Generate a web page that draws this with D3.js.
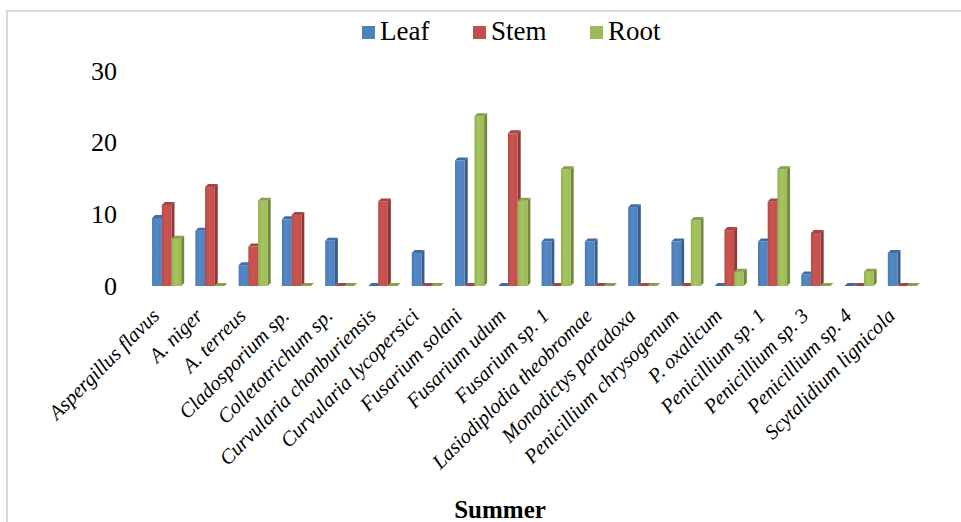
<!DOCTYPE html>
<html lang="en">
<meta charset="utf-8">
<head>
    <script src='https://d3js.org/d3.v7.min.js'></script>
    <style>
        body { margin: 0; background: #fff; }
    </style>
</head>
<body>
<div id="chart"></div>

<script>
// fungal isolates (x axis)
const categories = [
    "Aspergillus flavus", "A. niger", "A. terreus", "Cladosporium sp.",
    "Colletotrichum sp.", "Curvularia chonburiensis", "Curvularia lycopersici",
    "Fusarium solani", "Fusarium udum", "Fusarium sp. 1", "Lasiodiplodia theobromae",
    "Monodictys paradoxa", "Penicillium chrysogenum", "P. oxalicum",
    "Penicillium sp. 1", "Penicillium sp. 3", "Penicillium sp. 4", "Scytalidium lignicola"
];
const seriesNames = ["Leaf", "Stem", "Root"];
const leaf = [9.5, 7.7, 2.9, 9.3, 6.3, 0, 4.6, 17.5, 0, 6.2, 6.2, 11.0, 6.2, 0, 6.2, 1.6, 0, 4.6];
const stem = [11.3, 13.8, 5.5, 9.9, 0, 11.8, 0, 0, 21.3, 0, 0, 0, 0, 7.8, 11.8, 7.4, 0, 0];
const root = [6.6, 0, 11.9, 0, 0, 0, 0, 23.7, 11.9, 16.3, 0, 0, 9.2, 2.0, 16.3, 0, 2.0, 0];
const yTicks = [0, 10, 20, 30];

const colors = {Leaf: "#4F81BD", Stem: "#C0504D", Root: "#9BBB59"};
const sides  = {Leaf: "#385D8A", Stem: "#8C3836", Root: "#71893F"};
const tops   = {Leaf: "#3F6DA3", Stem: "#A54441", Root: "#86A14B"};

const W = 961, H = 522;
const baseY = 286, topY = 71;
const dx = 3, dy = 3; // 3d depth

const svg = d3.select("#chart").append("svg")
    .attr("width", W)
    .attr("height", H)
    .style("font-family", "'Liberation Serif', 'Times New Roman', serif");

// light frame
svg.append("path")
    .attr("d", "M7," + H + "V11H" + W)
    .attr("fill", "none")
    .attr("stroke", "#d9d9d9")
    .attr("stroke-width", 2);

// gradients for the front faces
const defs = svg.append("defs");
seriesNames.forEach(function(s) {
    const g = defs.append("linearGradient").attr("id", "g" + s)
        .attr("x1", "0").attr("x2", "1").attr("y1", "0").attr("y2", "0");
    g.append("stop").attr("offset", "0%").attr("stop-color", d3.color(colors[s]).darker(0.15));
    g.append("stop").attr("offset", "40%").attr("stop-color", d3.color(colors[s]).brighter(0.15));
    g.append("stop").attr("offset", "100%").attr("stop-color", colors[s]);
});

const x0 = d3.scaleBand()
    .domain(categories)
    .range([145, 924]);
const x1 = d3.scaleBand()
    .domain(seriesNames)
    .range([0, x0.bandwidth()])
    .paddingOuter(0.73);
const y = d3.scaleLinear()
    .domain([0, 30])
    .range([baseY, topY]);

// y axis (labels only)
const yAxis = svg.append("g")
    .attr("transform", "translate(123,0)")
    .call(d3.axisLeft(y).tickValues(yTicks).tickSize(0).tickPadding(6));
yAxis.select(".domain").remove();
yAxis.selectAll("text")
    .style("font-family", "'Liberation Serif', serif")
    .style("font-size", "26px")
    .attr("fill", "#000");

// x axis labels
const xAxis = svg.append("g")
    .attr("transform", "translate(0," + baseY + ")")
    .call(d3.axisBottom(x0).tickSize(0));
xAxis.select(".domain").remove();
xAxis.selectAll("text")
    .style("font-family", "'Liberation Serif', serif")
    .style("font-size", "20.5px")
    .style("font-style", "italic")
    .attr("fill", "#000")
    .attr("text-anchor", "end")
    .attr("dy", null)
    .attr("y", 0)
    .attr("transform", "translate(-6,31) rotate(-45)");

// bars
const rows = categories.map(function(c, i) {
    return {cat: c, values: [
        {key: "Leaf", v: leaf[i]},
        {key: "Stem", v: stem[i]},
        {key: "Root", v: root[i]}
    ]};
});

const groups = svg.append("g").selectAll("g")
    .data(rows)
    .join("g")
    .attr("transform", function(d) { return "translate(" + x0(d.cat) + ",0)"; });

const bars = groups.selectAll("g")
    .data(function(d) { return d.values; })
    .join("g");

const bw = x1.bandwidth();
// side face
bars.append("path")
    .attr("fill", function(d) { return sides[d.key]; })
    .attr("d", function(d) {
        const xl = x1(d.key) + bw, yt = y(d.v);
        return "M" + xl + "," + yt + "L" + (xl + dx) + "," + (yt - dy) +
            "L" + (xl + dx) + "," + (baseY - dy) + "L" + xl + "," + baseY + "Z";
    });
// front face
bars.append("rect")
    .attr("x", function(d) { return x1(d.key); })
    .attr("y", function(d) { return y(d.v); })
    .attr("width", bw)
    .attr("height", function(d) { return baseY - y(d.v); })
    .attr("fill", function(d) { return "url(#g" + d.key + ")"; });
// top face
bars.append("path")
    .attr("fill", function(d) { return tops[d.key]; })
    .attr("d", function(d) {
        const xl = x1(d.key), yt = y(d.v);
        return "M" + xl + "," + yt + "L" + (xl + dx) + "," + (yt - dy) +
            "L" + (xl + bw + dx) + "," + (yt - dy) + "L" + (xl + bw) + "," + yt + "Z";
    });

// legend
const legendX = [362, 473, 590];
const legend = svg.append("g").selectAll("g")
    .data(seriesNames)
    .join("g")
    .attr("transform", function(d, i) { return "translate(" + legendX[i] + ",26)"; });
legend.append("rect")
    .attr("width", 13)
    .attr("height", 13)
    .attr("fill", function(d) { return colors[d]; });
legend.append("text")
    .attr("x", 18)
    .attr("y", 14)
    .style("font-size", "27px")
    .text(function(d) { return d; });

// title at the bottom
svg.append("text")
    .attr("x", 500)
    .attr("y", 518)
    .attr("text-anchor", "middle")
    .style("font-size", "25px")
    .style("font-weight", "bold")
    .text("Summer");
</script>
</body>
</html>
